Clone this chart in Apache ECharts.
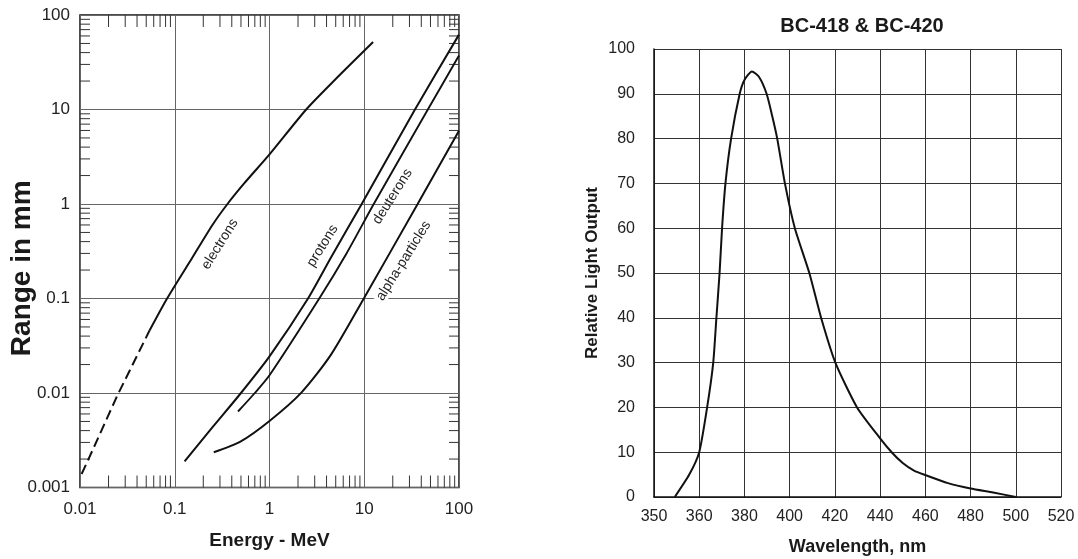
<!DOCTYPE html>
<html>
<head>
<meta charset="utf-8">
<script src="https://cdn.jsdelivr.net/npm/echarts@6/dist/echarts.min.js"></script>
<style>
  html, body { margin: 0; padding: 0; background: #ffffff; }
  #chart { width: 1078px; height: 559px; }
</style>
</head>
<body>
<div id="chart"></div>
<script>
// ---------- Left chart: range vs energy (log-log) ----------
const xTickLabels = ['0.01', '0.1', '1', '10', '100'];
const yTickLabels = ['0.001', '0.01', '0.1', '1', '10', '100'];
const minorMultipliers = [2, 3, 4, 5, 6, 7, 8, 9];
const xDecades = [0.01, 0.1, 1, 10];
const yDecades = [0.001, 0.01, 0.1, 1, 10];

const electronsDashE = [0.0104, 0.012, 0.0247, 0.054];
const electronsDashR = [0.00139, 0.00189, 0.00935, 0.0455];
const electronsE = [0.054, 0.083, 0.153, 0.25, 0.36, 0.54, 1, 2.44, 5, 12.4];
const electronsR = [0.0455, 0.1, 0.27, 0.6, 1, 1.65, 3.35, 10, 21, 51.7];

const protonsE = [0.127, 0.253, 0.5, 1, 2.55, 4.44, 9.4, 34.3, 100];
const protonsR = [0.00189, 0.0044, 0.01, 0.0244, 0.1, 0.27, 1, 10, 62];

const deuteronsE = [0.465, 0.7, 1, 3.35, 6.5, 12.6, 46.9, 100];
const deuteronsR = [0.00637, 0.01, 0.0154, 0.1, 0.3, 1, 10, 37.2];

const alphaE = [0.258, 0.498, 1, 2.17, 4.44, 10, 36.6, 100];
const alphaR = [0.00236, 0.00308, 0.00506, 0.0101, 0.0253, 0.102, 1, 5.96];

const curveLabelText = ['electrons', 'protons', 'deuterons', 'alpha-particles'];
const curveLabelE = [0.3, 3.63, 19.9, 26];
const curveLabelR = [0.376, 0.361, 1.2, 0.25];

// ---------- Right chart: emission spectrum ----------
const wlTicks = [350, 360, 380, 400, 420, 440, 460, 480, 500, 520];
const lightTicksMax = 100;
const wavelengths = [354.6, 357.8, 360, 363.5, 366.2, 367.6, 369.0, 370.1, 371.6, 374.1, 377.9, 380, 383.3, 386.4, 389.8, 392.3, 394.5, 397.9, 402.3, 408.7, 413.9, 420.2, 429.8, 440, 445.1, 450, 455, 460, 470, 480, 490, 500];
const lightOutput = [0, 5, 10, 20, 30, 40, 50, 60, 70, 80, 90, 93.1, 95, 93.8, 90, 85, 80, 70, 60, 50, 40, 30, 20, 13.1, 10, 7.6, 5.9, 4.9, 3.1, 1.9, 1.0, 0];

const FONT = "'Liberation Sans', Arial, Helvetica, sans-serif";

function pairs(xs, ys) { return xs.map((x, i) => [x, ys[i]]); }
function wavePos(w) {
  for (let i = 0; i < wlTicks.length - 1; i++) {
    if (w >= wlTicks[i] && w <= wlTicks[i + 1]) {
      return i + (w - wlTicks[i]) / (wlTicks[i + 1] - wlTicks[i]);
    }
  }
  return w < wlTicks[0] ? 0 : wlTicks.length - 1;
}

// minor tick items: [x, y, kind]
const minorItems = [];
xDecades.forEach(d => minorMultipliers.forEach(m => minorItems.push([d * m, 1, 0])));
yDecades.forEach(d => minorMultipliers.forEach(m => minorItems.push([1, d * m, 1])));

const chart = echarts.init(document.getElementById('chart'), null, { renderer: 'canvas' });

const curveStyle = { color: '#111', width: 2 };

const option = {
  animation: false,
  backgroundColor: '#ffffff',
  textStyle: { fontFamily: FONT },
  title: {
    text: 'BC-418 & BC-420',
    left: 857,
    top: 11,
    textAlign: 'center',
    textStyle: { fontFamily: FONT, fontSize: 20, fontWeight: 'bold', color: '#1a1a1a' }
  },
  grid: [
    { left: 80, top: 15, width: 379, height: 472.5, show: true, borderColor: '#111', borderWidth: 1.5,
      backgroundColor: 'transparent', outerBoundsMode: 'none', containLabel: false },
    { left: 654, top: 49, width: 407, height: 448, outerBoundsMode: 'none', containLabel: false }
  ],
  xAxis: [
    {
      gridIndex: 0, type: 'log', logBase: 10, min: 0.01, max: 100,
      axisLine: { show: false }, axisTick: { show: false },
      splitLine: { show: true, lineStyle: { color: '#666', width: 1 } },
      axisLabel: { formatter: (v, i) => xTickLabels[i], fontSize: 17, color: '#222', margin: 13, fontFamily: FONT },
      name: 'Energy - MeV', nameLocation: 'middle', nameGap: 44,
      nameTextStyle: { fontSize: 19, fontWeight: 'bold', color: '#1a1a1a', fontFamily: FONT }
    },
    {
      gridIndex: 1, type: 'value', min: 0, max: wlTicks.length - 1, interval: 1,
      axisLine: { show: true, lineStyle: { color: '#111', width: 1.5 } }, axisTick: { show: false },
      splitLine: { show: true, lineStyle: { color: '#333', width: 1 } },
      axisLabel: { formatter: v => String(wlTicks[Math.round(v)]), fontSize: 16, color: '#222', margin: 12, fontFamily: FONT },
      name: 'Wavelength, nm', nameLocation: 'middle', nameGap: 41,
      nameTextStyle: { fontSize: 18, fontWeight: 'bold', color: '#1a1a1a', fontFamily: FONT }
    }
  ],
  yAxis: [
    {
      gridIndex: 0, type: 'log', logBase: 10, min: 0.001, max: 100,
      axisLine: { show: false }, axisTick: { show: false },
      splitLine: { show: true, lineStyle: { color: '#666', width: 1 } },
      axisLabel: { formatter: (v, i) => yTickLabels[i], fontSize: 17, color: '#222', margin: 10, fontFamily: FONT }
    },
    {
      gridIndex: 1, type: 'value', min: 0, max: lightTicksMax, interval: 10,
      axisLine: { show: true, lineStyle: { color: '#111', width: 1.5 } }, axisTick: { show: false },
      splitLine: { show: true, lineStyle: { color: '#333', width: 1 } },
      axisLabel: { fontSize: 16, color: '#222', margin: 19, fontFamily: FONT },
      name: 'Relative Light Output', nameLocation: 'middle', nameGap: 53,
      nameTextStyle: { fontSize: 17, fontWeight: 'bold', color: '#1a1a1a', fontFamily: FONT }
    }
  ],
  series: [
    {
      type: 'custom', xAxisIndex: 0, yAxisIndex: 0, silent: true, clip: false, z: 3,
      data: minorItems,
      renderItem: function (params, api) {
        const v = api.value(0), w = api.value(1), kind = api.value(2);
        const st = { stroke: '#333', lineWidth: 1 };
        if (kind === 0) {
          const b = api.coord([v, 0.001]);
          const t = api.coord([v, 100]);
          return { type: 'group', children: [
            { type: 'line', shape: { x1: b[0], y1: b[1], x2: b[0], y2: b[1] - 12 }, style: st },
            { type: 'line', shape: { x1: t[0], y1: t[1], x2: t[0], y2: t[1] + 12 }, style: st }
          ]};
        }
        const l = api.coord([0.01, w]);
        const r = api.coord([100, w]);
        return { type: 'group', children: [
          { type: 'line', shape: { x1: l[0], y1: l[1], x2: l[0] + 10, y2: l[1] }, style: st },
          { type: 'line', shape: { x1: r[0], y1: r[1], x2: r[0] - 10, y2: r[1] }, style: st }
        ]};
      }
    },
    { name: 'electrons (extrapolated)', type: 'line', xAxisIndex: 0, yAxisIndex: 0, data: pairs(electronsDashE, electronsDashR),
      showSymbol: false, lineStyle: { color: '#111', width: 2, type: [10, 5] }, z: 5 },
    { name: 'electrons', type: 'line', xAxisIndex: 0, yAxisIndex: 0, data: pairs(electronsE, electronsR),
      showSymbol: false, smooth: 0.25, lineStyle: curveStyle, z: 5 },
    { name: 'protons', type: 'line', xAxisIndex: 0, yAxisIndex: 0, data: pairs(protonsE, protonsR),
      showSymbol: false, smooth: 0.25, lineStyle: curveStyle, z: 5 },
    { name: 'deuterons', type: 'line', xAxisIndex: 0, yAxisIndex: 0, data: pairs(deuteronsE, deuteronsR),
      showSymbol: false, smooth: 0.25, lineStyle: { color: '#111', width: 1.9 }, z: 5 },
    { name: 'alpha-particles', type: 'line', xAxisIndex: 0, yAxisIndex: 0, data: pairs(alphaE, alphaR),
      showSymbol: false, smooth: 0.25, lineStyle: curveStyle, z: 5 },
    { name: 'BC-418 & BC-420', type: 'line', xAxisIndex: 1, yAxisIndex: 1,
      data: wavelengths.map((w, i) => [wavePos(w), lightOutput[i]]),
      showSymbol: false, smooth: 0.2, lineStyle: { color: '#111', width: 2 }, z: 5 }
  ]
};

chart.setOption(option);

// curve labels and left y-axis title, anchored through the chart's own scales
const graphics = curveLabelText.map((t, i) => {
  const p = chart.convertToPixel({ gridIndex: 0 }, [curveLabelE[i], curveLabelR[i]]);
  const isAlpha = t === 'alpha-particles';
  return {
    type: 'text', x: p[0], y: p[1], rotation: 58 * Math.PI / 180, z: 10,
    style: {
      text: t, fill: '#222', font: '14px ' + FONT, align: 'center', verticalAlign: 'middle',
      backgroundColor: isAlpha ? '#ffffff' : null, padding: isAlpha ? [0, 2] : 0
    }
  };
});
const gridTop = chart.convertToPixel({ gridIndex: 0 }, [0.01, 100]);
const gridBot = chart.convertToPixel({ gridIndex: 0 }, [0.01, 0.001]);
graphics.push({
  type: 'text', x: 22, y: (gridTop[1] + gridBot[1]) / 2 + 17, rotation: Math.PI / 2, z: 10,
  style: { text: 'Range in mm', fill: '#1a1a1a', font: 'bold 28px ' + FONT, align: 'center', verticalAlign: 'middle' }
});
chart.setOption({ graphic: graphics });
</script>
</body>
</html>
